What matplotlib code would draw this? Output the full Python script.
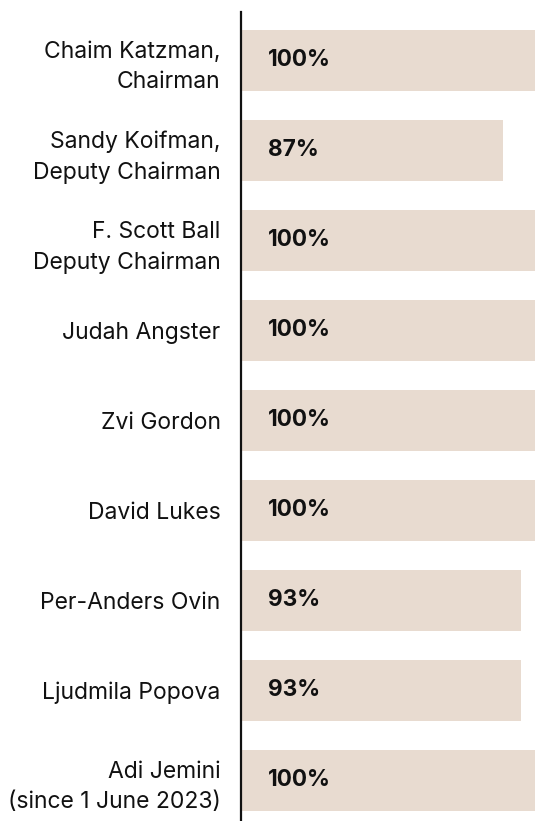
import matplotlib
matplotlib.use("Agg")
import matplotlib.pyplot as plt

names = [
    "Chaim Katzman,\nChairman",
    "Sandy Koifman,\nDeputy Chairman",
    "F. Scott Ball\nDeputy Chairman",
    "Judah Angster",
    "Zvi Gordon",
    "David Lukes",
    "Per-Anders Ovin",
    "Ljudmila Popova",
    "Adi Jemini\n(since 1 June 2023)",
]
attendance = [100, 87, 100, 100, 100, 100, 93, 93, 100]
value_labels = [f"{v}%" for v in attendance]

plt.rcParams['font.family'] = ['Inter', 'DejaVu Sans']

W, H = 535, 821
fig = plt.figure(figsize=(W / 100, H / 100), dpi=100)
left_px = 241.5
top_px = 12
ax = fig.add_axes([left_px / W, 0, 1 - left_px / W, (H - top_px) / H])

bar_color = "#E8DBD0"
pos = list(range(len(names)))
ax.barh(pos, attendance, height=0.68, color=bar_color, left=0)
ax.set_xlim(0, (W - left_px) / 3.01)
ax.set_ylim(8.452, -0.537)

for p, lab in zip(pos, value_labels):
    ax.annotate(lab, xy=(0, p), xytext=(19, 0), textcoords="offset points",
                ha="left", va="center", fontsize=16.3, fontweight="bold",
                color="#111111")

ax.set_yticks(pos)
ax.set_yticklabels(names, fontsize=16.5, color="#111111", linespacing=1.5)
ax.tick_params(axis="y", length=0, pad=15)
ax.set_xticks([])
for s in ["top", "right", "bottom"]:
    ax.spines[s].set_visible(False)
ax.spines["left"].set_linewidth(1.6)
ax.spines["left"].set_color("#111111")

fig.savefig("out.png", dpi=100)
